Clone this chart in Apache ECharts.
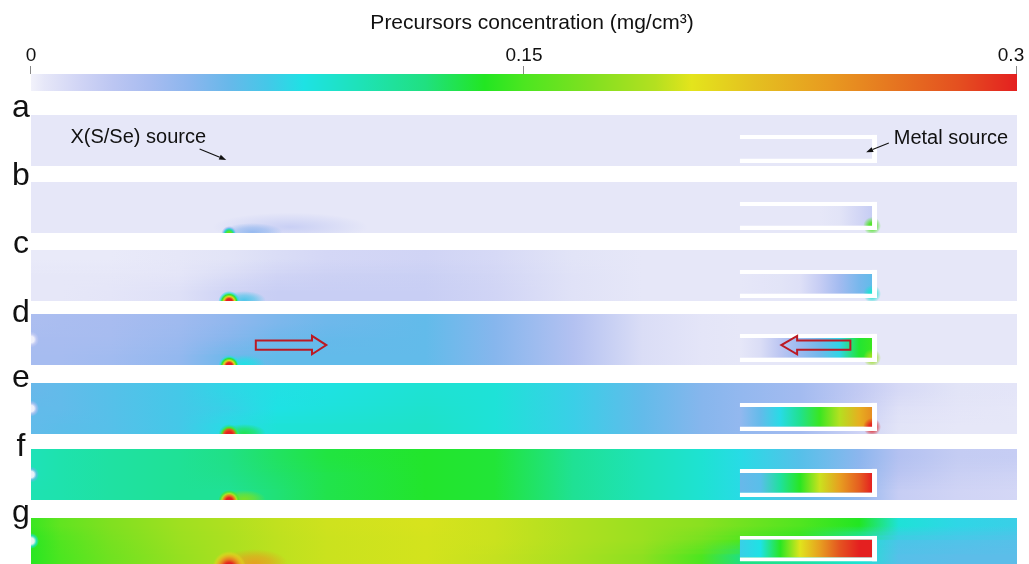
<!DOCTYPE html>
<html>
<head>
<meta charset="utf-8">
<script src="https://cdn.jsdelivr.net/npm/echarts@6/dist/echarts.min.js"></script>
<style>
  html, body { margin: 0; padding: 0; background: #ffffff; }
  #chart { width: 1029px; height: 564px; }
</style>
</head>
<body>
<div id="chart"></div>
<script>
// ---- colour scale: concentration (mg/cm3) -> colour ----
const scaleStops = [
  [0.000, '#f2f2fb'], [0.004, '#e6e7f8'], [0.015, '#d0d4f5'], [0.025, '#bcc6f2'],
  [0.036, '#a8bcf0'], [0.048, '#8cb6ee'], [0.060, '#68b8ea'], [0.072, '#44c8e8'],
  [0.083, '#1ee2e4'], [0.100, '#1ee2b8'], [0.120, '#20e080'], [0.138, '#22e622'],
  [0.150, '#4ce620'], [0.170, '#80e020'], [0.190, '#b4e020'], [0.201, '#e4e41c'],
  [0.220, '#e4c020'], [0.243, '#e89a20'], [0.260, '#e67a20'], [0.282, '#e45020'],
  [0.300, '#e42020']
];
const scaleTicks = [0, 0.15, 0.3];
const panelLetters = ['a', 'b', 'c', 'd', 'e', 'f', 'g'];

// sample positions along the furnace tube (0 = inlet, 100 = outlet)
const xs = [0, 3, 8, 15, 20, 25, 30, 40, 47, 55, 62, 68, 72, 78, 84, 88, 94, 100];

// concentration rows (top, middle, bottom) for each time step a–g
const panelA = [
  [.004, .004, .004, .004, .004, .004, .004, .004, .004, .004, .004, .004, .004, .004, .004, .004, .004, .004],
  [.004, .004, .004, .004, .004, .004, .004, .004, .004, .004, .004, .004, .004, .004, .004, .004, .004, .004],
  [.004, .004, .004, .004, .004, .004, .004, .004, .004, .004, .004, .004, .004, .004, .004, .004, .004, .004]
];
const panelB = [
  [.004, .004, .004, .004, .004, .004, .004, .004, .004, .004, .004, .004, .004, .004, .004, .004, .004, .004],
  [.004, .004, .004, .004, .004, .004, .004, .004, .004, .004, .004, .004, .004, .004, .004, .004, .004, .004],
  [.004, .004, .004, .004, .004, .004, .004, .004, .004, .004, .004, .004, .004, .004, .004, .004, .004, .004]
];
const panelC = [
  [.003, .003, .003, .004, .006, .010, .013, .015, .012, .006, .004, .004, .004, .004, .004, .004, .004, .004],
  [.004, .004, .004, .005, .010, .015, .017, .018, .014, .007, .004, .004, .004, .004, .004, .004, .004, .004],
  [.004, .004, .005, .008, .016, .019, .019, .019, .015, .007, .004, .004, .004, .004, .004, .004, .004, .004]
];
const panelD = [
  [.034, .035, .036, .040, .046, .053, .058, .062, .050, .030, .010, .005, .004, .004, .004, .004, .004, .004],
  [.036, .036, .037, .042, .050, .058, .061, .062, .050, .030, .010, .005, .004, .004, .004, .004, .004, .004],
  [.037, .037, .039, .045, .058, .062, .062, .062, .050, .030, .010, .005, .004, .004, .004, .004, .004, .004]
];
const panelE = [
  [.060, .062, .066, .072, .078, .082, .084, .090, .088, .075, .062, .050, .045, .038, .022, .012, .006, .005],
  [.062, .062, .066, .072, .076, .083, .086, .092, .088, .075, .062, .050, .045, .038, .020, .008, .005, .004],
  [.062, .064, .066, .072, .080, .088, .090, .094, .088, .075, .062, .050, .045, .038, .016, .006, .004, .004]
];
const panelF = [
  [.100, .104, .108, .112, .118, .126, .132, .136, .134, .113, .100, .090, .080, .066, .048, .030, .021, .020],
  [.100, .104, .108, .112, .116, .124, .130, .136, .134, .113, .100, .090, .080, .066, .046, .026, .018, .016],
  [.102, .104, .108, .112, .112, .122, .130, .136, .134, .113, .100, .090, .080, .064, .044, .020, .015, .013]
];
const panelG = [
  [.145, .158, .170, .182, .188, .193, .196, .198, .195, .188, .180, .174, .165, .152, .138, .088, .078, .075],
  [.140, .152, .166, .180, .186, .192, .195, .197, .195, .188, .180, .165, .150, .140, .090, .070, .068, .066],
  [.140, .150, .164, .178, .186, .192, .195, .197, .194, .186, .175, .150, .120, .110, .090, .066, .064, .064]
];
const panels = [panelA, panelB, panelC, panelD, panelE, panelF, panelG];

// metal source boat: sample positions and concentration inside it
const boatXs = [71.9, 74, 76, 78, 80, 82, 84, 85.3];
const boatValues = [
  [.004, .004, .004, .004, .004, .004, .004, .004],
  [.004, .004, .004, .004, .004, .006, .014, .020],
  [.004, .005, .006, .008, .020, .038, .055, .062],
  [.004, .010, .025, .042, .057, .078, .135, .145],
  [.045, .062, .080, .115, .145, .190, .230, .250],
  [.060, .065, .110, .140, .195, .240, .275, .300],
  [.075, .083, .140, .200, .240, .280, .300, .300]
];
// peak at the hot corner of the boat
const boatCorner = [null, .15, .09, .18, .30, null, null];

// X(S/Se) source spot: ring values from centre outwards, and its downstream tail
const sourceRings = [
  null,
  [.16, .12, .07, .035],
  [.30, .21, .14, .083],
  [.30, .21, .14, .083],
  [.30, .28, .15, .11],
  [.30, .26, .19, .15],
  [.30, .26, .23, .21]
];
const sourceTail = [null, .045, .07, .083, .13, .17, .24];
const sourceHalo = [null, .02, null, null, null, null, null];

// carrier-gas inlet spot: centre value and ring value
const inletRings = [null, null, null, [0, .02], [0, .03], [0, .06], [0, .083]];

// ---- helpers ----
const stopRgb = scaleStops.map(s => [s[0],
  parseInt(s[1].slice(1, 3), 16), parseInt(s[1].slice(3, 5), 16), parseInt(s[1].slice(5, 7), 16)]);

function colorAt(v, a) {
  if (a === undefined) a = 1;
  const lo = stopRgb[0][0], hi = stopRgb[stopRgb.length - 1][0];
  v = Math.max(lo, Math.min(hi, v));
  let k = 1;
  while (k < stopRgb.length - 1 && stopRgb[k][0] < v) k++;
  const s0 = stopRgb[k - 1], s1 = stopRgb[k];
  const t = (v - s0[0]) / ((s1[0] - s0[0]) || 1);
  const c = [1, 2, 3].map(j => Math.round(s0[j] + (s1[j] - s0[j]) * t));
  return 'rgba(' + c[0] + ',' + c[1] + ',' + c[2] + ',' + a + ')';
}

function hGradient(api, sampleX, vals, x0, x1) {
  const p0 = api.coord([x0, 0])[0], p1 = api.coord([x1, 0])[0];
  return {
    type: 'linear', x: 0, y: 0, x2: 1, y2: 0,
    colorStops: sampleX.map((x, k) => ({
      offset: Math.max(0, Math.min(1, (api.coord([x, 0])[0] - p0) / (p1 - p0))),
      color: colorAt(vals[k])
    }))
  };
}

function radial(stops) {
  return { type: 'radial', x: 0.5, y: 0.5, r: 0.5, colorStops: stops };
}

function rectFrom(api, x0, y0, x1, y1, style) {
  const a = api.coord([x0, y0]), b = api.coord([x1, y1]);
  return {
    type: 'rect',
    shape: { x: Math.min(a[0], b[0]), y: Math.min(a[1], b[1]), width: Math.abs(b[0] - a[0]), height: Math.abs(b[1] - a[1]) },
    style: style
  };
}

const rowY = [8.33, 5, 1.67];

function bandRect(api, vals, yTop, yBot, opacity, pad) {
  const a = api.coord([0, yTop]), b = api.coord([100, yBot]);
  return {
    type: 'rect',
    shape: { x: a[0], y: a[1] - pad, width: b[0] - a[0], height: b[1] - a[1] + 2 * pad },
    style: { fill: hGradient(api, xs, vals, 0, 100), opacity: opacity }
  };
}

function outlineArrow(api, xTail, xNeck, xTip, yc, shaftH, headH) {
  const P = (x, y) => api.coord([x, y]);
  return {
    type: 'polygon',
    shape: { points: [
      P(xTail, yc + shaftH), P(xNeck, yc + shaftH), P(xNeck, yc + headH), P(xTip, yc),
      P(xNeck, yc - headH), P(xNeck, yc - shaftH), P(xTail, yc - shaftH)
    ] },
    style: { fill: 'none', stroke: '#bb1a24', lineWidth: 2, lineJoin: 'miter' }
  };
}

function pointerArrow(api, from, to) {
  const p0 = api.coord(from), p1 = api.coord(to);
  const dx = p1[0] - p0[0], dy = p1[1] - p0[1], len = Math.hypot(dx, dy);
  const ux = dx / len, uy = dy / len, hl = 7, hw = 2.6;
  const bx = p1[0] - ux * hl, by = p1[1] - uy * hl;
  return [
    { type: 'line', shape: { x1: p0[0], y1: p0[1], x2: bx, y2: by }, style: { stroke: '#111', lineWidth: 1.1 } },
    { type: 'polygon', shape: { points: [[p1[0], p1[1]], [bx - uy * hw, by + ux * hw], [bx + uy * hw, by - ux * hw]] },
      style: { fill: '#111' } }
  ];
}

// ---- drawing of one concentration panel ----
function renderPanel(i, api) {
  const rows = panels[i];
  const children = [];

  // field: rows blended vertically, each row a horizontal gradient
  children.push(bandRect(api, rows[0], 10, rowY[0], 1, 0.5));
  for (let r = 0; r < 2; r++) {
    const yA = rowY[r], yB = rowY[r + 1];
    children.push(bandRect(api, rows[r], yA, yB, 1, 0.5));
    const N = 12;
    for (let j = 0; j < N; j++) {
      const t0 = yA + (yB - yA) * j / N, t1 = yA + (yB - yA) * (j + 1) / N;
      children.push(bandRect(api, rows[r + 1], t0, t1, (j + 0.5) / N, 0));
    }
  }
  children.push(bandRect(api, rows[2], rowY[2], 0, 1, 0.5));

  // inlet spot on the left wall
  if (inletRings[i]) {
    const p = api.coord([0, 5]);
    const ring = inletRings[i];
    children.push({
      type: 'circle', shape: { cx: p[0], cy: p[1], r: 8 },
      style: { fill: radial([
        { offset: 0, color: colorAt(ring[0]) },
        { offset: 0.4, color: colorAt(ring[0], 0.95) },
        { offset: 0.7, color: colorAt(ring[1], 0.7) },
        { offset: 1, color: colorAt(ring[1], 0) }
      ]) }
    });
  }

  // X(S/Se) source at x = 20 on the tube floor
  if (sourceRings[i]) {
    const src = api.coord([20, 0]);
    if (sourceHalo[i]) {
      children.push({
        type: 'circle', x: src[0] + 62, y: src[1] - 6, scaleX: 6.5, scaleY: 1.2,
        shape: { cx: 0, cy: 0, r: 12 },
        style: { fill: radial([
          { offset: 0, color: colorAt(sourceHalo[i], 0.9) },
          { offset: 1, color: colorAt(sourceHalo[i], 0) }
        ]) }
      });
    }
    const big = i === 6;
    const tail = sourceTail[i];
    children.push({
      type: 'circle', x: src[0] + (i === 1 ? 24 : (big ? 26 : 16)), y: src[1] - 1,
      scaleX: i === 1 ? 3.4 : 2.4, scaleY: 1,
      shape: { cx: 0, cy: 0, r: big ? 14 : 9 },
      style: { fill: radial([
        { offset: 0, color: colorAt(tail, 0.95) },
        { offset: 0.5, color: colorAt(tail, 0.6) },
        { offset: 1, color: colorAt(tail, 0) }
      ]) }
    });
    const ring = sourceRings[i];
    children.push({
      type: 'circle', shape: { cx: src[0] + 1, cy: src[1] + (big ? 4 : 1), r: i === 1 ? 8 : (big ? 17 : 11) },
      style: { fill: radial([
        { offset: 0, color: colorAt(ring[0]) },
        { offset: 0.3, color: colorAt(ring[0]) },
        { offset: 0.5, color: colorAt(ring[1]) },
        { offset: 0.68, color: colorAt(ring[2], 0.95) },
        { offset: 0.85, color: colorAt(ring[3], 0.6) },
        { offset: 1, color: colorAt(ring[3], 0) }
      ]) }
    });
  }

  // metal source boat: interior field, hot corner, white walls
  children.push(rectFrom(api, 71.9, 5.3, 85.3, 1.4, { fill: hGradient(api, boatXs, boatValues[i], 71.9, 85.3) }));
  if (boatCorner[i]) {
    const c = api.coord([85.3, 1.4]);
    children.push({
      type: 'circle', shape: { cx: c[0], cy: c[1], r: 9 },
      style: { fill: radial([
        { offset: 0, color: colorAt(boatCorner[i]) },
        { offset: 0.35, color: colorAt(boatCorner[i], 0.9) },
        { offset: 1, color: colorAt(boatCorner[i], 0) }
      ]) }
    });
  }
  children.push(rectFrom(api, 71.9, 5.3, 85.8, 6.1, { fill: '#ffffff' }));
  children.push(rectFrom(api, 71.9, 0.6, 85.8, 1.4, { fill: '#ffffff' }));
  children.push(rectFrom(api, 85.3, 0.6, 85.8, 6.1, { fill: '#ffffff' }));

  // gas-flow directions
  if (i === 3) {
    children.push(outlineArrow(api, 22.8, 28.5, 29.95, 3.9, 0.9, 1.8));
    children.push(outlineArrow(api, 83.1, 77.7, 76.1, 3.9, 0.9, 1.8));
  }
  return { type: 'group', children: children };
}

// labels of the two sources on the first panel
function renderLabels(params, api) {
  const font = '20px "Liberation Sans", Arial, sans-serif';
  const t1 = api.coord([4.0, 5.5]);
  const t2 = api.coord([87.5, 5.3]);
  const children = [
    { type: 'text', x: t1[0], y: t1[1], style: { text: 'X(S/Se) source', font: font, fill: '#111', align: 'left', verticalAlign: 'middle' } },
    { type: 'text', x: t2[0], y: t2[1], style: { text: 'Metal source', font: font, fill: '#111', align: 'left', verticalAlign: 'middle' } }
  ].concat(pointerArrow(api, [17.1, 3.35], [19.8, 1.2]))
   .concat(pointerArrow(api, [87.0, 4.5], [84.7, 2.7]));
  return { type: 'group', children: children };
}

// colour bar with its tick marks
function renderScale(params, api) {
  const lo = scaleStops[0][0], hi = scaleStops[scaleStops.length - 1][0];
  const a = api.coord([lo, 1]), b = api.coord([hi, 0]);
  const children = [{
    type: 'rect',
    shape: { x: a[0], y: a[1], width: b[0] - a[0], height: b[1] - a[1] },
    style: { fill: {
      type: 'linear', x: 0, y: 0, x2: 1, y2: 0,
      colorStops: scaleStops.map(s => ({ offset: (api.coord([s[0], 0])[0] - a[0]) / (b[0] - a[0]), color: s[1] }))
    } }
  }];
  scaleTicks.forEach(t => {
    const p = api.coord([t, 1]);
    const x = Math.round(p[0]) - 0.5;
    children.push({ type: 'line', shape: { x1: x, y1: p[1] - 8, x2: x, y2: p[1] }, style: { stroke: '#888', lineWidth: 1 } });
  });
  return { type: 'group', children: children };
}

// ---- layout ----
const panelTops = [115, 182, 250, 314, 383, 449, 518];
const letterY = [108, 176, 244, 313, 378, 447, 513];
const grids = [{ left: 31, width: 986, top: 74, height: 17 }];
const xAxes = [{
  gridIndex: 0, type: 'value', position: 'top', min: 0, max: 0.3, interval: 0.15,
  axisLine: { show: false }, splitLine: { show: false }, axisTick: { show: false },
  axisLabel: {
    margin: 9, fontSize: 19, color: '#111', fontFamily: '"Liberation Sans", Arial, sans-serif',
    showMinLabel: true, showMaxLabel: true,
    formatter: v => (v === scaleTicks[2] ? '{r|' + v + '}' : String(v)),
    rich: { r: { fontSize: 19, color: '#111', padding: [0, 12, 0, 0], fontFamily: '"Liberation Sans", Arial, sans-serif' } }
  }
}];
const yAxes = [{ gridIndex: 0, type: 'value', min: 0, max: 1, show: false }];
const series = [{
  type: 'custom', xAxisIndex: 0, yAxisIndex: 0, data: [[0]], renderItem: renderScale, silent: true, animation: false, clip: false
}];

panels.forEach((p, i) => {
  grids.push({ left: 31, width: 986, top: panelTops[i], height: 51 });
  xAxes.push({ gridIndex: i + 1, type: 'value', min: 0, max: 100, show: false });
  yAxes.push({ gridIndex: i + 1, type: 'value', min: 0, max: 10, show: false });
  series.push({
    type: 'custom', xAxisIndex: i + 1, yAxisIndex: i + 1, data: [[i]], clip: true,
    renderItem: (params, api) => renderPanel(i, api), silent: true, animation: false
  });
});
series.push({
  type: 'custom', xAxisIndex: 1, yAxisIndex: 1, data: [[0]], clip: false,
  renderItem: renderLabels, silent: true, animation: false, z: 5
});

const graphics = [{
  type: 'text', x: 532, y: 23,
  style: { text: 'Precursors concentration (mg/cm\u00b3)', font: '21px "Liberation Sans", Arial, sans-serif',
    fill: '#111', align: 'center', verticalAlign: 'middle', textAlign: 'center', textVerticalAlign: 'middle' }
}];
panelLetters.forEach((l, i) => {
  graphics.push({
    type: 'text', x: 21, y: letterY[i],
    style: { text: l, font: '32px "Liberation Sans", Arial, sans-serif', fill: '#111',
      align: 'center', verticalAlign: 'middle', textAlign: 'center', textVerticalAlign: 'middle' }
  });
});

const chart = echarts.init(document.getElementById('chart'), null, { renderer: 'canvas' });
chart.setOption({
  animation: false,
  backgroundColor: '#ffffff',
  grid: grids,
  xAxis: xAxes,
  yAxis: yAxes,
  series: series,
  graphic: graphics
});
</script>
</body>
</html>
